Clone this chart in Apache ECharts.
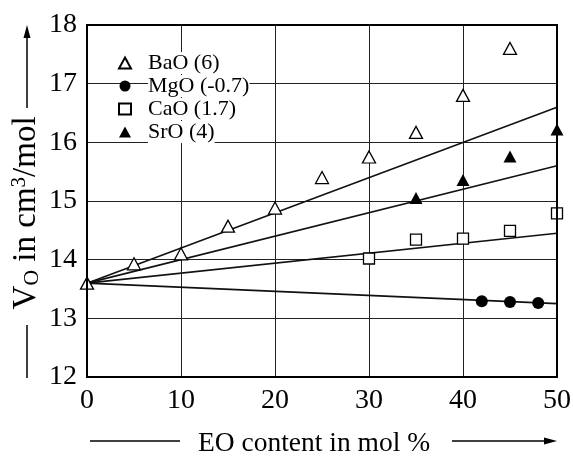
<!DOCTYPE html>
<html>
<head>
<meta charset="utf-8">
<script src="https://cdn.jsdelivr.net/npm/echarts@6/dist/echarts.min.js"></script>
<style>html,body{margin:0;padding:0;background:#fff}#c{width:573px;height:460px}</style>
</head>
<body>
<div id="c"></div>
<script>
// Data
var baoX = [0, 5, 10, 15, 20, 25, 30, 35, 40, 45];
var baoY = [13.6, 13.93, 14.1, 14.57, 14.88, 15.4, 15.75, 16.17, 16.8, 17.6];
var mgoX = [42, 45, 48];
var mgoY = [13.29, 13.28, 13.26];
var caoX = [30, 35, 40, 45, 50];
var caoY = [14.02, 14.34, 14.36, 14.49, 14.79];
var sroX = [35, 40, 45, 50];
var sroY = [15.05, 15.36, 15.76, 16.22];
// fit lines: endpoints at x = 0 and x = 50
var fitX = [0, 50];
var fitBaO = [13.6, 16.6];
var fitSrO = [13.6, 15.6];
var fitCaO = [13.6, 14.45];
var fitMgO = [13.6, 13.25];
var xTicks = [0, 10, 20, 30, 40, 50];
var yTicks = [12, 13, 14, 15, 16, 17, 18];

function pairs(xs, ys) { return xs.map(function (x, i) { return [x, ys[i]]; }); }

var FONT = '"Liberation Serif", "DejaVu Serif", serif';
var chart = echarts.init(document.getElementById('c'));

function fit(ys) {
  return {
    type: 'line', data: pairs(fitX, ys), symbol: 'none', silent: true,
    lineStyle: { color: '#111', width: 1.6 }, z: 2
  };
}

chart.setOption({
  animation: false,
  backgroundColor: '#fff',
  grid: { left: 87, right: 16, top: 25, bottom: 83, show: true, borderColor: '#000', borderWidth: 2,
          backgroundColor: 'transparent', z: 5, containLabel: false, outerBoundsMode: 'none' },
  legend: {
    orient: 'vertical', left: 113, top: 47, itemGap: 1, itemWidth: 12, itemHeight: 11,
    data: ['BaO (6)', 'MgO (-0.7)', 'CaO (1.7)', 'SrO (4)'],
    formatter: function (n) { return '{t|' + n + '}'; },
    textStyle: { fontFamily: FONT, fontSize: 22, color: '#000', padding: [0, 0, 0, 12], lineHeight: 22,
      rich: { t: { fontFamily: FONT, fontSize: 22, color: '#000', backgroundColor: '#fff', lineHeight: 22 } } }
  },
  xAxis: {
    type: 'value', min: xTicks[0], max: xTicks[xTicks.length - 1], interval: 10,
    name: 'EO content in mol %', nameLocation: 'middle', nameGap: 53, nameMoveOverlap: false,
    nameTextStyle: { fontFamily: FONT, fontSize: 27.5, color: '#000', padding: [0, 16, 0, 0] },
    axisLine: { show: false }, axisTick: { show: false },
    axisLabel: { fontFamily: FONT, fontSize: 28, color: '#000', margin: 10 },
    splitLine: { show: true, lineStyle: { color: '#222', width: 1 } }
  },
  yAxis: {
    type: 'value', min: yTicks[0], max: yTicks[yTicks.length - 1], interval: 1,
    name: '{a|V}{sub|O}{a| in cm}{sup|3}{a|/mol}', nameLocation: 'middle', nameRotate: 90, nameGap: 44,
    nameMoveOverlap: false,
    nameTextStyle: {
      fontFamily: FONT, fontSize: 33, color: '#000', padding: [0, 24, 0, 0],
      rich: {
        a: { fontFamily: FONT, fontSize: 33, lineHeight: 34, color: '#000' },
        sub: { fontFamily: FONT, fontSize: 22, lineHeight: 18, verticalAlign: 'bottom', color: '#000' },
        sup: { fontFamily: FONT, fontSize: 21, lineHeight: 18, verticalAlign: 'top', color: '#000' }
      }
    },
    axisLine: { show: false }, axisTick: { show: false },
    axisLabel: { fontFamily: FONT, fontSize: 28, color: '#000', margin: 10 },
    splitLine: { show: true, lineStyle: { color: '#222', width: 1 } }
  },
  series: [
    fit(fitBaO), fit(fitSrO), fit(fitCaO), fit(fitMgO),
    { name: 'BaO (6)', type: 'scatter', data: pairs(baoX, baoY), symbol: 'triangle', symbolSize: [13, 12],
      itemStyle: { color: '#fff', borderColor: '#000', borderWidth: 1.3, opacity: 1 }, z: 4 },
    { name: 'MgO (-0.7)', type: 'scatter', data: pairs(mgoX, mgoY), symbol: 'circle', symbolSize: 12,
      itemStyle: { color: '#000', opacity: 1 }, z: 4 },
    { name: 'CaO (1.7)', type: 'scatter', data: pairs(caoX, caoY), symbol: 'rect', symbolSize: 11,
      itemStyle: { color: '#fff', borderColor: '#000', borderWidth: 1.3, opacity: 1 }, z: 4 },
    { name: 'SrO (4)', type: 'scatter', data: pairs(sroX, sroY), symbol: 'triangle', symbolSize: [13, 12],
      itemStyle: { color: '#000', opacity: 1 }, z: 4 }
  ],
  graphic: [
    { type: 'line', shape: { x1: 27, y1: 108, x2: 27, y2: 36 }, style: { stroke: '#000', lineWidth: 1.5 } },
    { type: 'polygon', shape: { points: [[27, 25], [23.5, 38], [30.5, 38]] }, style: { fill: '#000' } },
    { type: 'line', shape: { x1: 27, y1: 325, x2: 27, y2: 378 }, style: { stroke: '#000', lineWidth: 1.5 } },
    { type: 'line', shape: { x1: 90, y1: 441, x2: 180, y2: 441 }, style: { stroke: '#000', lineWidth: 1.5 } },
    { type: 'line', shape: { x1: 452, y1: 441, x2: 546, y2: 441 }, style: { stroke: '#000', lineWidth: 1.5 } },
    { type: 'polygon', shape: { points: [[557, 441], [544, 437.5], [544, 444.5]] }, style: { fill: '#000' } }
  ]
});
</script>
</body>
</html>
